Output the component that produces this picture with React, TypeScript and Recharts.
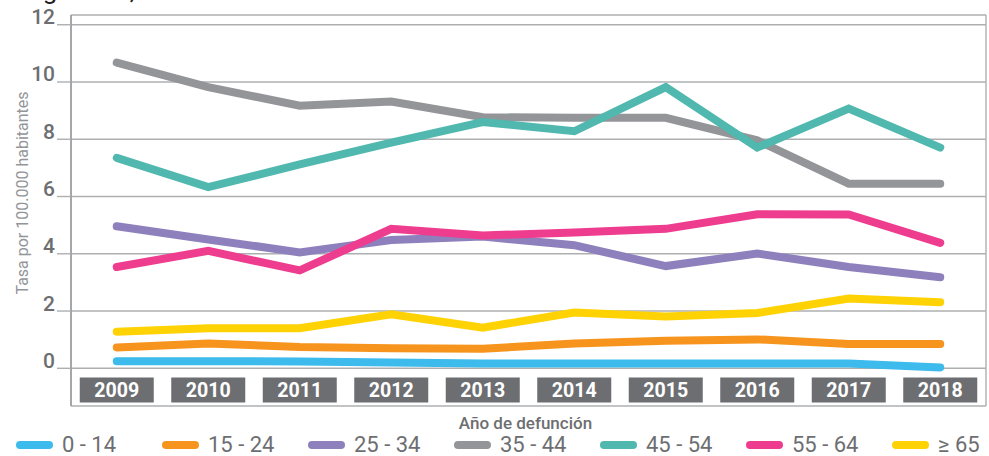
import React from 'react';
import {
  LineChart,
  Line,
  XAxis,
  YAxis,
  CartesianGrid,
  Legend,
} from 'recharts';

const years = [2009, 2010, 2011, 2012, 2013, 2014, 2015, 2016, 2017, 2018];
const bandEdges = [2008.5, 2009.5, 2010.5, 2011.5, 2012.5, 2013.5, 2014.5, 2015.5, 2016.5, 2017.5, 2018.5];
const yTicks = [0, 2, 4, 6, 8, 10, 12];

const age0_14 = [0.25, 0.25, 0.24, 0.2, 0.17, 0.17, 0.17, 0.17, 0.17, 0.03];
const age15_24 = [0.73, 0.87, 0.74, 0.7, 0.68, 0.87, 0.96, 1.01, 0.85, 0.85];
const age25_34 = [4.96, 4.5, 4.05, 4.48, 4.6, 4.3, 3.57, 4.01, 3.54, 3.18];
const age35_44 = [10.68, 9.82, 9.17, 9.32, 8.77, 8.75, 8.75, 7.96, 6.45, 6.45];
const age45_54 = [7.35, 6.33, 7.12, 7.88, 8.6, 8.28, 9.82, 7.71, 9.07, 7.71];
const age55_64 = [3.54, 4.1, 3.42, 4.87, 4.64, 4.74, 4.87, 5.38, 5.37, 4.38];
const age65 = [1.28, 1.4, 1.4, 1.89, 1.42, 1.95, 1.81, 1.93, 2.44, 2.31];

const series = [
  { key: 'a', name: '0 - 14', color: '#3dbbec', values: age0_14 },
  { key: 'b', name: '15 - 24', color: '#f7941d', values: age15_24 },
  { key: 'c', name: '25 - 34', color: '#8e80bc', values: age25_34 },
  { key: 'd', name: '35 - 44', color: '#939598', values: age35_44 },
  { key: 'e', name: '45 - 54', color: '#50b8ae', values: age45_54 },
  { key: 'f', name: '55 - 64', color: '#ee3d8f', values: age55_64 },
  { key: 'g', name: '≥ 65', color: '#ffd204', values: age65 },
];

const data = years.map((year, i) => {
  const row: Record<string, number> = { year };
  series.forEach((s) => {
    row[s.key] = s.values[i];
  });
  return row;
});

const FONT = 'Roboto, sans-serif';
const TEXT_GRAY = '#6d6e71';

const YearTick = (props: any) => {
  const { x, y, payload } = props;
  return (
    <g>
      <rect x={x - 37} y={y - 28.5} width={74} height={25} fill={TEXT_GRAY} />
      <text
        x={x}
        y={y - 8.7}
        textAnchor="middle"
        fill="#fff"
        fontFamily={FONT}
        fontWeight={700}
        fontSize={21}
        textLength={45}
        lengthAdjust="spacingAndGlyphs"
      >
        {payload.value}
      </text>
    </g>
  );
};

const ValueTick = (props: any) => {
  const { x, y, payload } = props;
  return (
    <text
      x={x}
      y={y - 0.5}
      textAnchor="end"
      fill={TEXT_GRAY}
      fontFamily={FONT}
      fontWeight={500}
      fontSize={21}
    >
      {payload.value}
    </text>
  );
};

const renderLegend = (props: any) => {
  const { payload } = props;
  return (
    <div
      style={{
        display: 'flex',
        height: 24,
        alignItems: 'center',
        paddingLeft: 16,
        paddingTop: 2,
        boxSizing: 'border-box',
        fontFamily: FONT,
        whiteSpace: 'nowrap',
      }}
    >
      {payload.map((entry: any) => (
        <div
          key={entry.value}
          style={{ display: 'flex', alignItems: 'center', width: 146, height: 22, flexShrink: 0 }}
        >
          <span
            style={{
              display: 'inline-block',
              width: 37,
              height: 8,
              borderRadius: 4,
              background: entry.color,
              marginRight: 9,
            }}
          />
          <span style={{ fontSize: 22, lineHeight: '22px', color: TEXT_GRAY, fontWeight: 400 }}>
            {entry.value}
          </span>
        </div>
      ))}
    </div>
  );
};

export default function App() {
  return (
    <div style={{ position: 'absolute', left: 0, top: 0, width: 989, height: 456, background: '#fff', overflow: 'hidden' }}>
      <svg width={989} height={20} style={{ position: 'absolute', left: 0, top: 0 }}>
        <text x={22} y={-1} fontFamily={FONT} fontSize={26} fill="#231f20">
          Figura 10,
        </text>
      </svg>
      <LineChart
        width={989}
        height={456}
        data={data}
        margin={{ top: 15, right: 3, left: 0, bottom: 0 }}
      >
        <CartesianGrid stroke="#aeafb1" strokeWidth={1.4} xAxisId="grid" />
        <XAxis
          xAxisId="grid"
          dataKey="year"
          type="number"
          domain={[2008.5, 2018.5]}
          ticks={bandEdges}
          height={0}
          tick={false}
          tickLine={false}
          axisLine={false}
        />
        <XAxis
          xAxisId="labels"
          dataKey="year"
          type="number"
          domain={[2008.5, 2018.5]}
          ticks={years}
          height={26}
          tickSize={0}
          tickMargin={0}
          tickLine={false}
          axisLine={false}
          tick={<YearTick />}
          interval={0}
          label={({ viewBox }: any) => (
            <text
              x={viewBox.x + viewBox.width / 2 - 3}
              y={viewBox.y + 23}
              textAnchor="middle"
              fill={TEXT_GRAY}
              fontFamily={FONT}
              fontWeight={500}
              fontSize={17}
            >
              Año de defunción
            </text>
          )}
        />
        <YAxis
          type="number"
          domain={[-1.317, 12.34]}
          allowDataOverflow
          ticks={yTicks}
          interval={0}
          width={71}
          tickSize={14}
          tickMargin={2}
          stroke="#97999b"
          tickLine={{ stroke: '#aeafb1', strokeWidth: 1.4 }}
          axisLine={{ stroke: '#97999b', strokeWidth: 1.4 }}
          tick={<ValueTick />}
          label={({ viewBox }: any) => (
            <text
              x={viewBox.x + 22}
              y={viewBox.y + 178}
              transform={`rotate(-90, ${viewBox.x + 22}, ${viewBox.y + 178})`}
              textAnchor="middle"
              dominantBaseline="central"
              fill="#939598"
              fontFamily={FONT}
              fontSize={16}
            >
              Tasa por 100.000 habitantes
            </text>
          )}
        />
        {series.map((s) => (
          <Line
            key={s.key}
            xAxisId="grid"
            type="linear"
            dataKey={s.key}
            name={s.name}
            stroke={s.color}
            strokeWidth={8}
            strokeLinecap="round"
            dot={false}
            activeDot={false}
            isAnimationActive={false}
          />
        ))}
        <Legend verticalAlign="bottom" align="left" height={24} content={renderLegend} />
      </LineChart>
    </div>
  );
}
